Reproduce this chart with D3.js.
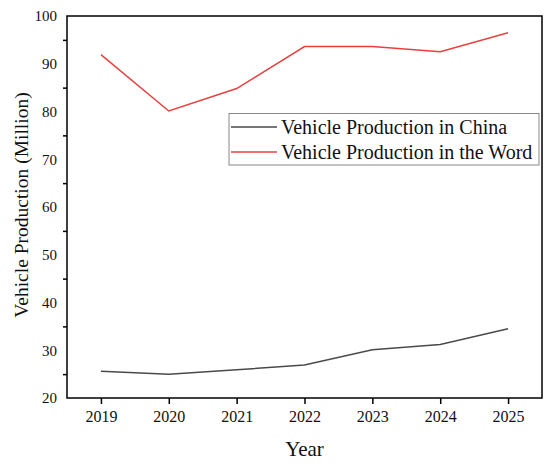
<!DOCTYPE html>
<html><head><meta charset="utf-8">
<script src="https://cdn.jsdelivr.net/npm/d3@7"></script>
<style>body{margin:0;background:#fff}svg{display:block}svg text{font-family:"Liberation Serif","Times New Roman",serif !important}</style>
</head><body>
<script>
const years = [2019, 2020, 2021, 2022, 2023, 2024, 2025];
const china = [25.6, 25.0, 25.9, 26.9, 30.1, 31.2, 34.5];
const world = [91.9, 80.1, 84.8, 93.6, 93.6, 92.5, 96.5];
const yTickLabels = [20, 30, 40, 50, 60, 70, 80, 90, 100];
const yMinorTicks = [25, 35, 45, 55, 65, 75, 85, 95];
const seriesNames = ["Vehicle Production in China", "Vehicle Production in the Word"];
const seriesColors = ["#4a4a4a", "#e8403e"];

const W = 550, H = 466;
const m = {l: 67, t: 16, r: 8, b: 68};
const FONT = '"Liberation Serif", "Times New Roman", serif';
const svg = d3.select("body").append("svg").attr("width", W).attr("height", H);
const x = d3.scaleLinear().domain([2018.5, 2025.5]).range([m.l, W - m.r]);
const y = d3.scaleLinear().domain([20, 100]).range([H - m.b, m.t]);

// x axis
const xa = svg.append("g").attr("transform", `translate(0,${H - m.b})`)
  .call(d3.axisBottom(x).tickValues(years).tickFormat(d3.format("d")).tickSize(6).tickPadding(7));
xa.attr("font-family", FONT);
xa.select(".domain").remove();
xa.selectAll("line").attr("stroke", "#000").attr("stroke-width", 1.5);
xa.selectAll("text").style("font-family", FONT).attr("font-size", 16).attr("fill", "#111");

// y axis labels
const ya = svg.append("g").attr("transform", `translate(${m.l},0)`)
  .call(d3.axisLeft(y).tickValues(yTickLabels).tickSize(0).tickPadding(10));
ya.attr("font-family", FONT);
ya.select(".domain").remove();
ya.selectAll("text").style("font-family", FONT).attr("font-size", 15).attr("fill", "#111");
// y minor ticks
const ym = svg.append("g").attr("transform", `translate(${m.l},0)`)
  .call(d3.axisLeft(y).tickValues(yMinorTicks).tickSize(4).tickFormat(""));
ym.select(".domain").remove();
ym.selectAll("line").attr("stroke", "#000").attr("stroke-width", 1.5);

// frame
svg.append("rect").attr("x", m.l).attr("y", m.t).attr("width", W - m.r - m.l).attr("height", H - m.b - m.t)
  .attr("fill", "none").attr("stroke", "#000").attr("stroke-width", 1.5);

const line = d3.line().x((d, i) => x(years[i])).y(d => y(d));
[china, world].forEach((s, k) => {
  svg.append("path").datum(s).attr("d", line).attr("fill", "none")
    .attr("stroke", seriesColors[k]).attr("stroke-width", 1.5);
});

// axis titles
svg.append("text").attr("x", (m.l + W - m.r) / 2).attr("y", 456).attr("text-anchor", "middle")
  .attr("font-size", 21).attr("fill", "#111").text("Year");
svg.append("text").attr("transform", `translate(28,${(m.t + H - m.b) / 2 - 2}) rotate(-90)`)
  .attr("text-anchor", "middle").attr("font-size", 19.5).attr("fill", "#111").text("Vehicle Production (Million)");

// legend
const lg = svg.append("g");
lg.append("rect").attr("x", 229).attr("y", 113.5).attr("width", 310).attr("height", 51.5)
  .attr("fill", "#fff").attr("stroke", "#888").attr("stroke-width", 1);
seriesNames.forEach((n, k) => {
  const yy = 127 + k * 25;
  lg.append("line").attr("x1", 231).attr("x2", 277).attr("y1", yy).attr("y2", yy)
    .attr("stroke", seriesColors[k]).attr("stroke-width", 1.5);
  lg.append("text").attr("x", 281).attr("y", yy + 6.5).attr("font-size", 20).attr("fill", "#111").text(n);
});
</script>
</body></html>
